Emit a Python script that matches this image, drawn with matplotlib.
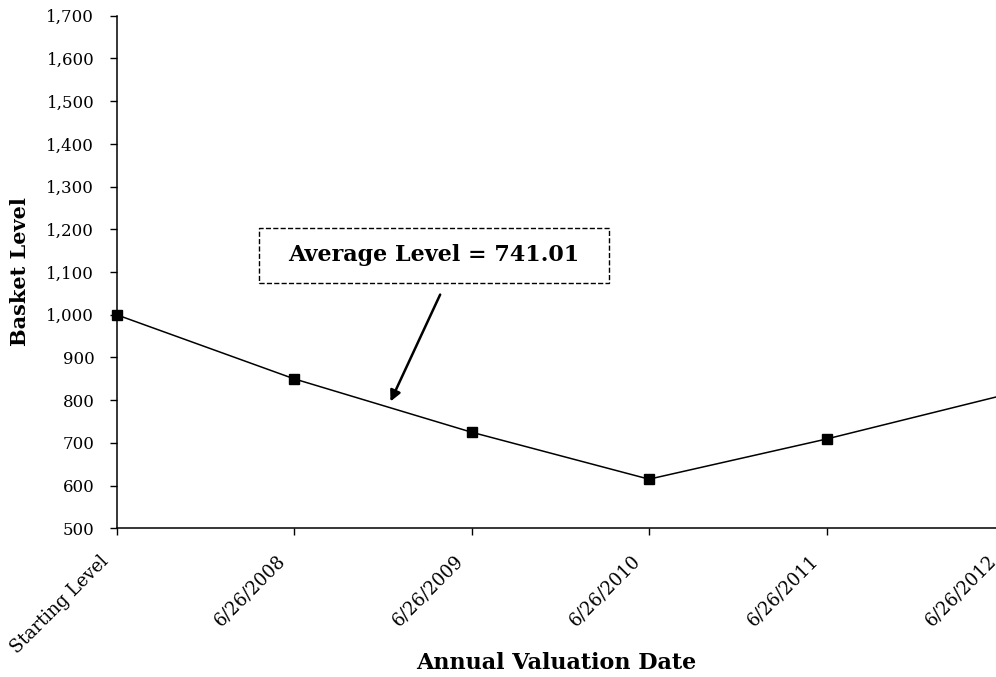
import matplotlib
matplotlib.use('Agg')
import matplotlib.pyplot as plt
import matplotlib.transforms as mtransforms
from matplotlib.patches import Rectangle
from matplotlib.ticker import FuncFormatter

dates = ['Starting Level', '6/26/2008', '6/26/2009', '6/26/2010', '6/26/2011', '6/26/2012']
levels = [1000, 850, 725, 615, 709, 812]
avg_text = 'Average Level = 741.01'

plt.rcParams['font.family'] = ['DejaVu Serif']

fig = plt.figure(figsize=(9.96, 6.77), dpi=100)
# axes run past the right edge of the picture, like the cropped original
ax = fig.add_axes([116.5/996, 148.7/677, 887.5/996, 512.6/677])

x = list(range(len(dates)))
ax.plot(x, levels, color='black', lw=1.1, marker='s', ms=7, mfc='black', mec='black',
        clip_on=False)

ax.set_xlim(0, 5)
ax.set_ylim(500, 1700)
ax.set_yticks(range(500, 1701, 100))
ax.yaxis.set_major_formatter(FuncFormatter(lambda v, p: f'{int(v):,}'))
ax.set_xticks(x)
ax.set_xticklabels([])

# date labels drawn by hand so they sit a bit left of their ticks, as in the original
trans = mtransforms.blended_transform_factory(ax.transData, ax.transAxes) + \
    mtransforms.ScaledTranslation(-11/100, -30/100, fig.dpi_scale_trans)
for i, d in enumerate(dates):
    ax.text(i, 0, d, transform=trans, rotation=45, ha='right', va='center',
            rotation_mode='anchor', fontsize=13, clip_on=False)

ax.tick_params(axis='y', direction='out', length=5, width=1, labelsize=12, pad=11)
ax.tick_params(axis='x', direction='out', length=5, width=1)

for side in ['top', 'right']:
    ax.spines[side].set_visible(False)
for side in ['left', 'bottom']:
    ax.spines[side].set_linewidth(1.1)

ax.set_ylabel('Basket Level', fontsize=15, fontweight='bold')
ax.yaxis.set_label_coords(-0.109, 0.5)
ax.yaxis.label.set_va('center')
ax.set_xlabel('Annual Valuation Date', fontsize=16, fontweight='bold')
ax.xaxis.set_label_coords(0.496, -0.263)
ax.xaxis.label.set_va('center')

# dashed callout box
ax.add_patch(Rectangle((0.8, 1074), 1.976, 129, fill=False, ls='--', lw=1, ec='black',
                       clip_on=False))
ax.text(1.787, 1140, avg_text, ha='center', va='center', fontsize=16, fontweight='bold')
ax.annotate('', xy=(1.537, 791), xytext=(1.83, 1053),
            arrowprops=dict(arrowstyle='-|>', color='black', lw=1.8, mutation_scale=16))

fig.savefig('out.png', dpi=100)
